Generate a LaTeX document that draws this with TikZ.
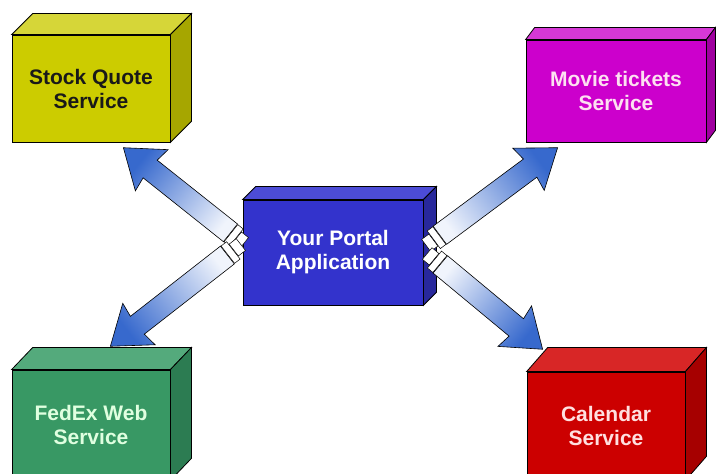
\documentclass[tikz,border=0pt]{standalone}
\usepackage{fontspec}
\setmainfont{Liberation Sans}
\usetikzlibrary{shapes.arrows,calc}
\definecolor{stockFront}{RGB}{204,204,0}
\definecolor{stockTop}{RGB}{214,214,56}
\definecolor{stockSide}{RGB}{166,166,0}
\definecolor{movieFront}{RGB}{204,0,204}
\definecolor{movieTop}{RGB}{214,56,214}
\definecolor{movieSide}{RGB}{160,0,160}
\definecolor{portalFront}{RGB}{51,51,204}
\definecolor{portalTop}{RGB}{76,76,214}
\definecolor{portalSide}{RGB}{40,40,156}
\definecolor{fedexFront}{RGB}{56,152,100}
\definecolor{fedexTop}{RGB}{84,170,124}
\definecolor{fedexSide}{RGB}{44,124,82}
\definecolor{calFront}{RGB}{204,0,0}
\definecolor{calTop}{RGB}{216,38,38}
\definecolor{calSide}{RGB}{166,0,0}
\definecolor{arrowBlue}{RGB}{55,105,205}
\definecolor{arrowPale}{RGB}{240,244,252}
\tikzset{
  svcbox/.style={rectangle, draw=black, line width=0.8pt, inner sep=0pt,
                 align=center, font=\bfseries\fontsize{21}{24}\selectfont},
  flowarrow/.style={single arrow, draw=black, line width=0.6pt,
                    inner xsep=0pt, inner ysep=11pt,
                    minimum width=52pt, single arrow head extend=15pt,
                    single arrow tip angle=72, single arrow head indent=2pt,
                    left color=arrowPale, right color=arrowBlue},
  plugband/.style={rectangle, draw=black, fill=white, line width=0.5pt,
                   inner sep=0pt, minimum width=7pt, minimum height=22pt},
  plugbody/.style={rectangle, draw=black, fill=white, line width=0.5pt,
                   inner sep=0pt, minimum width=9pt, minimum height=15pt},
}
% top and right faces of a box node: name, dx, dy, top colour, side colour
\newcommand{\boxsides}[5]{%
  \filldraw[draw=black, line width=0.8pt, fill=#4] (#1.north west) -- ++(#2,#3)
    -- ($(#1.north east)+(#2,#3)$) -- (#1.north east) -- cycle;
  \filldraw[draw=black, line width=0.8pt, fill=#5] (#1.north east) -- ++(#2,#3)
    -- ($(#1.south east)+(#2,#3)$) -- (#1.south east) -- cycle;}

\begin{document}
\begin{tikzpicture}[x=1pt, y=1pt]
  \useasboundingbox (0,0) rectangle (716,474);
  \clip (0,0) rectangle (716,474);
  % Boxes
  \node[svcbox, fill=stockFront, text=black!90, minimum width=158pt, minimum height=107pt]
    (stock) at (91,385.5) {Stock Quote\\Service};
  \boxsides{stock}{21}{21}{stockTop}{stockSide}
  \node[svcbox, fill=movieFront, text=white!88!magenta, minimum width=180pt, minimum height=102pt]
    (movie) at (616,383) {Movie tickets\\Service};
  \boxsides{movie}{9}{12}{movieTop}{movieSide}
  \node[svcbox, fill=portalFront, text=white, minimum width=180pt, minimum height=105pt]
    (portal) at (333,221.5) {Your Portal\\Application};
  \boxsides{portal}{13}{13}{portalTop}{portalSide}
  \node[svcbox, fill=fedexFront, text=white!88!green, minimum width=158pt, minimum height=110pt]
    (fedex) at (91,49) {FedEx Web\\Service};
  \boxsides{fedex}{21}{22}{fedexTop}{fedexSide}
  \node[svcbox, fill=calFront, text=white!88!red, minimum width=158pt, minimum height=108pt]
    (calendar) at (606,48) {Calendar\\Service};
  \boxsides{calendar}{21}{24}{calTop}{calSide}
  % Arrow ends
  \coordinate (ulTail) at ($(portal.west)+(0,10)$);
  \coordinate (ulTip) at ($(stock.south)+(32,-5)$);
  \coordinate (llTail) at ($(portal.west)+(-3,7)$);
  \coordinate (llTip) at ($(fedex.north)+(19,23)$);
  \coordinate (urTail) at ($(portal.east)+(4,8)$);
  \coordinate (urTip) at ($(movie.south)+(-58,-5)$);
  \coordinate (lrTail) at ($(portal.east)+(5,-2)$);
  \coordinate (lrTip) at ($(calendar.north)+(-63,22)$);
  % Arrows with plugs
  \path let \p1=($(ulTip)-(ulTail)$), \n1={atan2(\y1,\x1)}, \n2={veclen(\x1,\y1)} in
    node[flowarrow, rotate=\n1, shading angle=\n1+90, minimum height=\n2-16pt, anchor=tip] (ulArrow) at (ulTip) {}
    node[plugband, rotate=\n1, anchor=east] (ulBand) at (ulArrow.tail) {}
    node[plugbody, rotate=\n1, anchor=east] (ulPlug) at (ulBand.west) {};
  \path let \p1=($(llTip)-(llTail)$), \n1={atan2(\y1,\x1)}, \n2={veclen(\x1,\y1)} in
    node[flowarrow, rotate=\n1, shading angle=\n1+90, minimum height=\n2-16pt, anchor=tip] (llArrow) at (llTip) {}
    node[plugband, rotate=\n1, anchor=east] (llBand) at (llArrow.tail) {}
    node[plugbody, rotate=\n1, anchor=east] (llPlug) at (llBand.west) {};
  \path let \p1=($(urTip)-(urTail)$), \n1={atan2(\y1,\x1)}, \n2={veclen(\x1,\y1)} in
    node[flowarrow, rotate=\n1, shading angle=\n1+90, minimum height=\n2-16pt, anchor=tip] (urArrow) at (urTip) {}
    node[plugband, rotate=\n1, anchor=east] (urBand) at (urArrow.tail) {}
    node[plugbody, rotate=\n1, anchor=east] (urPlug) at (urBand.west) {};
  \path let \p1=($(lrTip)-(lrTail)$), \n1={atan2(\y1,\x1)}, \n2={veclen(\x1,\y1)} in
    node[flowarrow, rotate=\n1, shading angle=\n1+90, minimum height=\n2-16pt, anchor=tip] (lrArrow) at (lrTip) {}
    node[plugband, rotate=\n1, anchor=east] (lrBand) at (lrArrow.tail) {}
    node[plugbody, rotate=\n1, anchor=east] (lrPlug) at (lrBand.west) {};
\end{tikzpicture}
\end{document}
